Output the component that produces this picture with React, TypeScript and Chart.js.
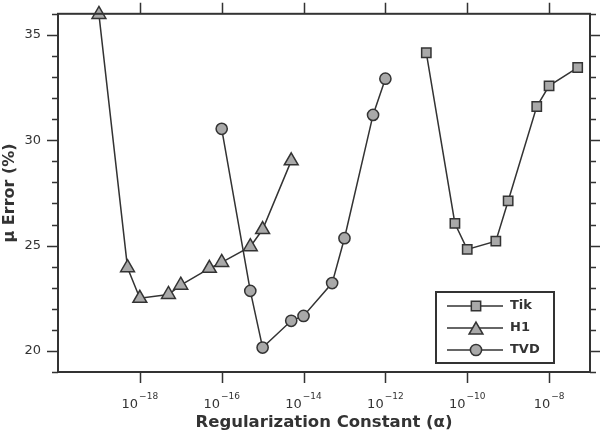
import { useEffect, useRef } from "react";
import { Chart, registerables } from "chart.js";

Chart.register(...registerables);

// ---- data ----
const tikAlpha = [1e-11, 5e-11, 1e-10, 5e-10, 1e-9, 5e-9, 1e-8, 5e-8];
const tikError = [34.15, 26.05, 24.82, 25.21, 27.12, 31.6, 32.58, 33.45];

const h1Alpha = [1e-19, 5e-19, 1e-18, 5e-18, 1e-17, 5e-17, 1e-16, 5e-16, 1e-15, 5e-15];
const h1Error = [35.97, 23.95, 22.5, 22.68, 23.12, 23.92, 24.2, 24.95, 25.76, 29.02];

const tvdAlpha = [1e-16, 5e-16, 1e-15, 5e-15, 1e-14, 5e-14, 1e-13, 5e-13, 1e-12];
const tvdError = [30.54, 22.85, 20.16, 21.43, 21.66, 23.22, 25.35, 31.2, 32.92];

const xTickExponents = [-18, -16, -14, -12, -10, -8];
const yMajorTicks = [20, 25, 30, 35];
const seriesNames = ["Tik", "H1", "TVD"];
const seriesStyles = ["rect", "triangle", "circle"];

const INK = "#333333";
const FILL = "#a9a9a9";
const FONT = "'DejaVu Sans', sans-serif";

function drawMarker(ctx: CanvasRenderingContext2D, style: string, x: number, y: number) {
  ctx.beginPath();
  if (style === "rect") {
    const s = 6.6 * Math.SQRT1_2;
    ctx.rect(x - s, y - s, 2 * s, 2 * s);
  } else if (style === "triangle") {
    const r = 8;
    let a = 0;
    ctx.moveTo(x + Math.sin(a) * r, y - Math.cos(a) * r);
    a += (2 * Math.PI) / 3;
    ctx.lineTo(x + Math.sin(a) * r, y - Math.cos(a) * r);
    a += (2 * Math.PI) / 3;
    ctx.lineTo(x + Math.sin(a) * r, y - Math.cos(a) * r);
    ctx.closePath();
  } else {
    ctx.arc(x, y, 5.6, 0, Math.PI * 2);
  }
  ctx.fillStyle = FILL;
  ctx.fill();
  ctx.lineWidth = 1.5;
  ctx.strokeStyle = INK;
  ctx.stroke();
}

const framePlugin = {
  id: "frameAndTicks",
  afterDraw(chart: any) {
    const { ctx, chartArea } = chart;
    const { left, right, top, bottom } = chartArea;
    const xs = chart.scales.x;
    const ys = chart.scales.y;
    ctx.save();
    ctx.strokeStyle = INK;
    ctx.lineWidth = 2;
    ctx.strokeRect(left, top, right - left, bottom - top);
    ctx.lineWidth = 1.5;
    ctx.beginPath();
    // x ticks bottom and top
    for (const e of xTickExponents) {
      const px = Math.round(xs.getPixelForValue(Math.pow(10, e))) + 0.5;
      ctx.moveTo(px, bottom);
      ctx.lineTo(px, bottom + 11);
      ctx.moveTo(px, top);
      ctx.lineTo(px, top - 11);
    }
    // y ticks left and right
    for (let v = Math.ceil(ys.min); v <= ys.max; v++) {
      const len = v % 5 === 0 ? 11 : 6;
      const py = Math.round(ys.getPixelForValue(v)) + 0.5;
      ctx.moveTo(left - len, py);
      ctx.lineTo(left, py);
      ctx.moveTo(right, py);
      ctx.lineTo(right + len, py);
    }
    ctx.stroke();

    // x tick labels with superscript exponents
    ctx.fillStyle = INK;
    ctx.textBaseline = "alphabetic";
    ctx.textAlign = "left";
    for (const e of xTickExponents) {
      const px = xs.getPixelForValue(Math.pow(10, e));
      const base = "10";
      const exp = "\u2212" + String(Math.abs(e));
      ctx.font = `13px ${FONT}`;
      const wb = ctx.measureText(base).width;
      ctx.font = `9px ${FONT}`;
      const we = ctx.measureText(exp).width;
      const x0 = px - (wb + we + 1) / 2;
      ctx.font = `13px ${FONT}`;
      ctx.fillText(base, x0, 408);
      ctx.font = `9px ${FONT}`;
      ctx.fillText(exp, x0 + wb + 1, 399);
    }

    // legend
    const bx = 436, by = 292, bw = 118, bh = 71;
    ctx.fillStyle = "#ffffff";
    ctx.fillRect(bx, by, bw, bh);
    ctx.lineWidth = 2;
    ctx.strokeStyle = INK;
    ctx.strokeRect(bx, by, bw, bh);
    seriesNames.forEach((name, i) => {
      const ry = 306 + i * 22;
      ctx.beginPath();
      ctx.lineWidth = 1.5;
      ctx.strokeStyle = INK;
      ctx.moveTo(447, ry);
      ctx.lineTo(503, ry);
      ctx.stroke();
      drawMarker(ctx, seriesStyles[i], 476, i === 1 ? ry + 2 : ry);
      ctx.fillStyle = INK;
      ctx.font = `bold 13px ${FONT}`;
      ctx.textBaseline = "middle";
      ctx.fillText(name, 510, ry);
    });
    ctx.restore();
  },
};

export default function App() {
  const ref = useRef<HTMLCanvasElement>(null);
  useEffect(() => {
    if (!ref.current) return;
    const mk = (xs: number[], ys: number[]) => xs.map((x, i) => ({ x, y: ys[i] }));
    const common = {
      showLine: true,
      borderColor: INK,
      borderWidth: 1.5,
      backgroundColor: FILL,
      pointBackgroundColor: FILL,
      pointBorderColor: INK,
      pointBorderWidth: 1.5,
      clip: false as any,
    };
    const chart = new Chart(ref.current, {
      type: "scatter",
      data: {
        datasets: [
          { ...common, label: seriesNames[0], data: mk(tikAlpha, tikError), pointStyle: "rect", pointRadius: 6.6 },
          { ...common, label: seriesNames[1], data: mk(h1Alpha, h1Error), pointStyle: "triangle", pointRadius: 8 },
          { ...common, label: seriesNames[2], data: mk(tvdAlpha, tvdError), pointStyle: "circle", pointRadius: 5.6 },
        ],
      },
      options: {
        animation: false,
        responsive: false,
        devicePixelRatio: 1,
        layout: { padding: { top: 10, right: 10, left: 0, bottom: 0 } },
        plugins: { legend: { display: false }, tooltip: { enabled: false } },
        scales: {
          x: {
            type: "logarithmic",
            position: "bottom",
            min: 1e-20,
            max: 1e-7,
            grid: { display: false, drawTicks: true, tickLength: 11 },
            border: { display: false },
            ticks: { display: false },
            title: {
              display: true,
              text: "Regularization Constant (\u03b1)",
              color: INK,
              font: { family: FONT, size: 16.5, weight: "bold" },
              padding: { top: 0, bottom: 1 },
            },
            afterFit: (s: any) => {
              s.height = 62;
            },
          },
          y: {
            type: "linear",
            min: 19,
            max: 36,
            grid: { display: false, drawTicks: true, tickLength: 11 },
            border: { display: false },
            afterBuildTicks: (s: any) => {
              s.ticks = yMajorTicks.map((v) => ({ value: v }));
            },
            ticks: {
              color: INK,
              padding: 6,
              font: { family: FONT, size: 13 },
              callback: (v: any) => String(v),
            },
            title: {
              display: true,
              text: "\u03bc Error (%)",
              color: INK,
              font: { family: FONT, size: 16, weight: "bold" },
              padding: { top: 0, bottom: 0 },
            },
            afterFit: (s: any) => {
              s.width = 58;
            },
          },
        },
      },
      plugins: [framePlugin],
    });
    return () => chart.destroy();
  }, []);
  return (
    <div style={{ position: "absolute", left: 0, top: 0, width: 600, height: 434, background: "#fff" }}>
      <canvas ref={ref} width={600} height={434} />
    </div>
  );
}
